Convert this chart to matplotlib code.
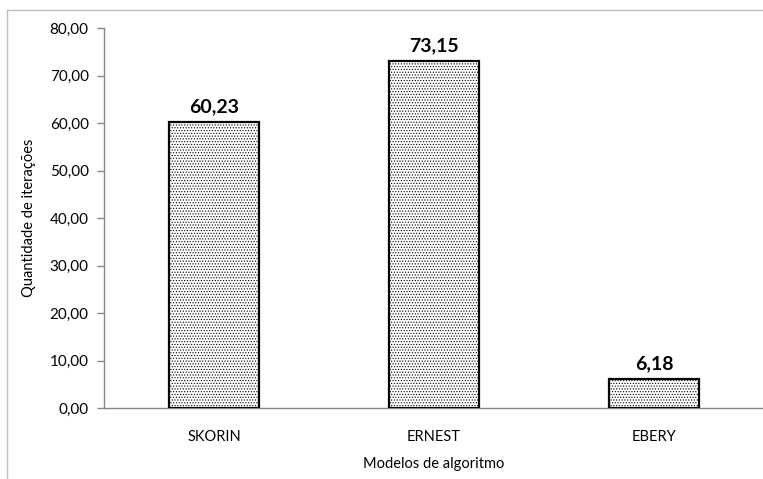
import matplotlib.pyplot as plt
from matplotlib.lines import Line2D

plt.rcParams['font.family'] = ['Lato', 'DejaVu Sans']
plt.rcParams['hatch.linewidth'] = 0.5

# Average number of iterations per algorithm model
modelos = ["SKORIN", "ERNEST", "EBERY"]
iteracoes = [60.23, 73.15, 6.18]
yticks = [0, 10, 20, 30, 40, 50, 60, 70, 80]

def br(v):
    return f"{v:.2f}".replace(".", ",")

fig = plt.figure(figsize=(7.63, 4.79), dpi=100)
ax = fig.add_axes([104 / 763, 71 / 479, 660 / 763, 380 / 479])

x = range(len(modelos))
ax.bar(x, iteracoes, width=0.41, color="white", edgecolor="black",
       linewidth=1.6, hatch="......", zorder=3)

for xi, v in zip(x, iteracoes):
    ax.text(xi, v + 1.4, br(v), ha="center", va="bottom",
            fontsize=14, fontweight="bold")

ax.set_xlim(-0.5, len(modelos) - 0.5)
ax.set_ylim(0, 80)
ax.set_yticks(yticks)
ax.set_yticklabels([br(t) for t in yticks], fontsize=11)
ax.set_xticks(list(x))
ax.set_xticklabels(modelos, fontsize=10.5)
ax.tick_params(axis="x", length=0, pad=16)
ax.tick_params(axis="y", length=5, color="#868686", width=1, pad=6)

for s in ["top", "right"]:
    ax.spines[s].set_visible(False)
for s in ["left", "bottom"]:
    ax.spines[s].set_color("#868686")
    ax.spines[s].set_linewidth(1)

ax.set_ylabel("Quantidade de iterações", fontsize=10.5, labelpad=10)
ax.set_xlabel("Modelos de algoritmo", fontsize=10.5, labelpad=9)

# chart area frame (left and top edges)
fig.add_artist(Line2D([7 / 763, 7 / 763], [0, 1 - 10 / 479],
                      transform=fig.transFigure, color="#bfbfbf", lw=1))
fig.add_artist(Line2D([7 / 763, 1], [1 - 10 / 479, 1 - 10 / 479],
                      transform=fig.transFigure, color="#bfbfbf", lw=1))

fig.savefig("out.png", dpi=100)
